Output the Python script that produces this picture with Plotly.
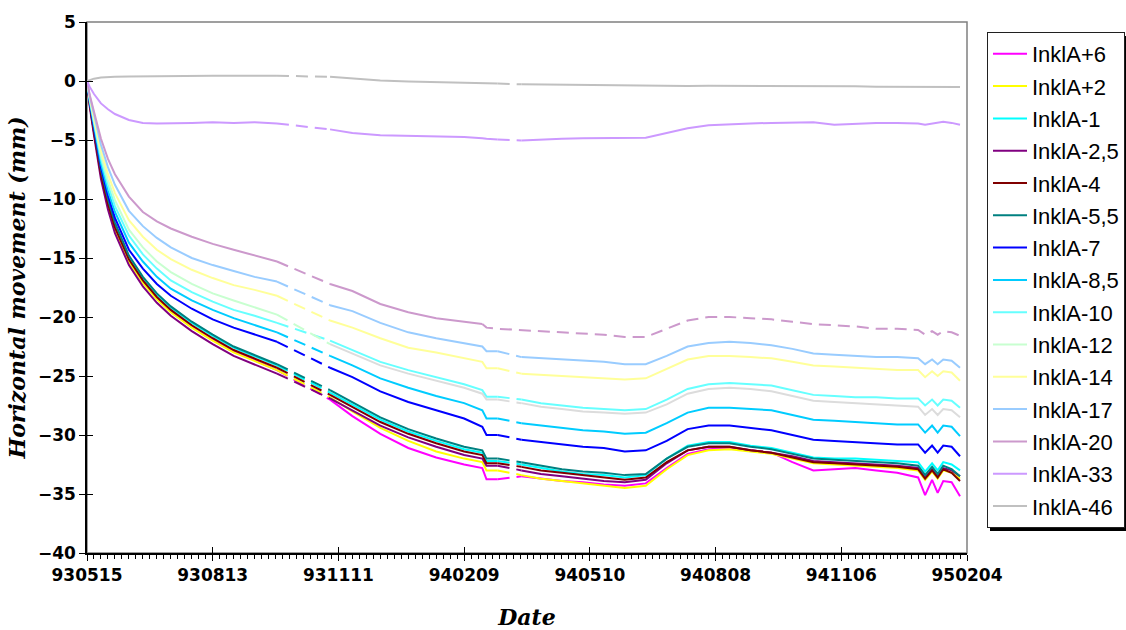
import plotly.graph_objects as go
from datetime import date, timedelta

# ---------------- data ----------------
start = date(1993, 5, 15)
days = [0, 2, 5, 10, 15, 20, 30, 40, 50, 60,
        75, 90, 105, 120, 136, 174, 190, 210, 230, 250,
        270, 283, 286, 294, 311, 325, 340, 355, 370, 385,
        400, 415, 430, 445, 460, 475, 490, 505, 520, 535,
        550, 565, 580, 595, 600, 605, 609, 613, 619, 625]
dates = [(start + timedelta(days=d)).isoformat() for d in days]

names = ["InklA+6", "InklA+2", "InklA-1", "InklA-2,5", "InklA-4", "InklA-5,5",
         "InklA-7", "InklA-8,5", "InklA-10", "InklA-12", "InklA-14", "InklA-17",
         "InklA-20", "InklA-33", "InklA-46"]

inkl_p6 = [0, -2.0, -4.3, -8.0, -10.5, -12.5, -15.2, -17.0, -18.4, -19.5,
           -20.8, -21.9, -22.9, -23.7, -24.5, -27.0, -28.4, -29.9, -31.1, -31.9,
           -32.5, -32.8, -33.75, -33.75, -33.5, -33.7, -33.9, -34.0, -34.2, -34.3,
           -34.1, -32.8, -31.6, -31.2, -31.1, -31.3, -31.5, -32.3, -33.0, -32.9,
           -32.8, -33.0, -33.2, -33.6, -35.1, -33.8, -34.9, -33.9, -34.0, -35.2]
inkl_p2 = [0, -2.0, -4.3, -8.0, -10.6, -12.6, -15.3, -17.1, -18.5, -19.6,
           -20.9, -22.0, -23.0, -23.7, -24.5, -26.8, -28.0, -29.4, -30.5, -31.4,
           -32.0, -32.3, -33.0, -33.0, -33.4, -33.7, -33.9, -34.1, -34.3, -34.5,
           -34.3, -32.9, -31.7, -31.3, -31.2, -31.4, -31.6, -32.0, -32.4, -32.5,
           -32.6, -32.7, -32.8, -33.0, -33.8, -33.1, -33.7, -33.0, -33.2, -33.7]
inkl_m1 = [0, -1.9, -4.1, -7.7, -10.2, -12.2, -14.9, -16.7, -18.1, -19.2,
           -20.5, -21.6, -22.6, -23.3, -24.1, -26.4, -27.4, -28.7, -29.7, -30.5,
           -31.2, -31.5, -32.2, -32.2, -32.5, -32.8, -33.1, -33.3, -33.4, -33.6,
           -33.4, -32.0, -30.9, -30.6, -30.6, -30.9, -31.1, -31.5, -31.9, -32.0,
           -32.0, -32.1, -32.2, -32.3, -33.1, -32.4, -33.0, -32.3, -32.5, -33.0]
inkl_m2_5 = [0, -2.2, -4.6, -8.3, -10.9, -12.9, -15.6, -17.4, -18.8, -19.9,
             -21.2, -22.3, -23.3, -24.0, -24.8, -26.9, -27.9, -29.2, -30.2, -31.0,
             -31.7, -32.0, -32.6, -32.6, -33.0, -33.3, -33.5, -33.7, -33.9, -34.0,
             -33.8, -32.4, -31.3, -31.0, -31.0, -31.3, -31.5, -31.8, -32.2, -32.3,
             -32.4, -32.5, -32.6, -32.8, -33.6, -32.9, -33.5, -32.8, -33.0, -33.5]
inkl_m4 = [0, -2.0, -4.3, -7.9, -10.4, -12.4, -15.1, -16.9, -18.3, -19.4,
           -20.7, -21.8, -22.8, -23.5, -24.3, -26.6, -27.6, -28.9, -29.9, -30.7,
           -31.4, -31.7, -32.4, -32.4, -32.7, -33.0, -33.2, -33.4, -33.6, -33.8,
           -33.6, -32.3, -31.3, -31.0, -31.0, -31.3, -31.5, -31.9, -32.3, -32.4,
           -32.5, -32.6, -32.7, -32.9, -33.7, -33.0, -33.6, -32.9, -33.2, -33.9]
inkl_m5_5 = [0, -1.8, -4.0, -7.5, -10.0, -12.0, -14.8, -16.6, -18.0, -19.1,
             -20.4, -21.5, -22.5, -23.2, -24.0, -26.2, -27.2, -28.5, -29.5, -30.3,
             -31.0, -31.3, -32.0, -32.0, -32.3, -32.6, -32.9, -33.1, -33.2, -33.4,
             -33.3, -32.0, -31.0, -30.7, -30.7, -31.0, -31.2, -31.6, -32.0, -32.1,
             -32.2, -32.3, -32.4, -32.6, -33.4, -32.7, -33.3, -32.6, -32.9, -33.5]
inkl_m7 = [0, -1.8, -3.9, -7.3, -9.7, -11.6, -14.3, -15.9, -17.2, -18.2,
           -19.3, -20.2, -20.9, -21.5, -22.1, -24.3, -25.1, -26.3, -27.2, -27.9,
           -28.6, -29.3, -30.0, -30.0, -30.4, -30.6, -30.8, -31.0, -31.1, -31.4,
           -31.3, -30.5, -29.5, -29.2, -29.2, -29.4, -29.6, -30.0, -30.4, -30.5,
           -30.6, -30.7, -30.8, -30.8, -31.5, -30.9, -31.5, -30.9, -31.0, -31.8]
inkl_m8_5 = [0, -1.7, -3.7, -7.0, -9.3, -11.1, -13.7, -15.3, -16.6, -17.6,
             -18.6, -19.4, -20.1, -20.7, -21.3, -23.3, -24.1, -25.2, -26.0, -26.7,
             -27.3, -27.9, -28.6, -28.6, -29.0, -29.2, -29.4, -29.6, -29.7, -29.9,
             -29.8, -29.0, -28.1, -27.7, -27.7, -27.8, -27.9, -28.3, -28.7, -28.8,
             -28.9, -29.0, -29.1, -29.1, -29.8, -29.2, -29.8, -29.2, -29.3, -30.1]
inkl_m10 = [0, -1.6, -3.5, -6.6, -8.8, -10.6, -13.1, -14.7, -15.9, -16.9,
            -17.9, -18.7, -19.4, -19.9, -20.5, -22.0, -22.8, -23.8, -24.5, -25.1,
            -25.7, -26.2, -26.75, -26.75, -27.0, -27.3, -27.5, -27.7, -27.8, -27.9,
            -27.8, -27.0, -26.1, -25.7, -25.6, -25.7, -25.8, -26.2, -26.6, -26.7,
            -26.8, -26.8, -26.9, -26.9, -27.5, -27.0, -27.5, -27.0, -27.1, -27.7]
inkl_m12 = [0, -1.5, -3.3, -6.3, -8.4, -10.1, -12.6, -14.1, -15.3, -16.2,
            -17.2, -18.0, -18.6, -19.2, -19.8, -22.3, -23.1, -24.1, -24.8, -25.4,
            -26.0, -26.5, -27.0, -27.0, -27.3, -27.6, -27.8, -28.0, -28.1, -28.2,
            -28.1, -27.4, -26.5, -26.1, -26.0, -26.1, -26.3, -26.7, -27.1, -27.2,
            -27.3, -27.4, -27.5, -27.6, -28.3, -27.8, -28.3, -27.8, -27.9, -28.5]
inkl_m14 = [0, -1.4, -3.1, -5.9, -7.9, -9.5, -11.8, -13.2, -14.3, -15.1,
            -16.0, -16.7, -17.3, -17.7, -18.2, -20.3, -20.9, -21.8, -22.6, -23.0,
            -23.5, -23.8, -24.35, -24.35, -24.8, -24.9, -25.0, -25.1, -25.2, -25.3,
            -25.2, -24.4, -23.6, -23.3, -23.3, -23.4, -23.5, -23.8, -24.1, -24.2,
            -24.3, -24.4, -24.5, -24.5, -25.1, -24.6, -25.0, -24.6, -24.7, -25.4]
inkl_m17 = [0, -1.3, -2.8, -5.4, -7.3, -8.8, -11.0, -12.3, -13.3, -14.1,
            -15.0, -15.6, -16.1, -16.6, -17.0, -19.0, -19.5, -20.5, -21.3, -21.8,
            -22.2, -22.5, -22.9, -22.9, -23.4, -23.5, -23.6, -23.7, -23.8, -24.0,
            -24.0, -23.3, -22.5, -22.2, -22.1, -22.2, -22.4, -22.7, -23.1, -23.2,
            -23.3, -23.4, -23.4, -23.5, -24.0, -23.6, -24.0, -23.6, -23.7, -24.3]
inkl_m20 = [0, -1.2, -2.6, -4.9, -6.6, -7.9, -9.8, -11.1, -11.9, -12.5,
            -13.2, -13.8, -14.3, -14.8, -15.3, -17.2, -17.8, -18.9, -19.6, -20.1,
            -20.4, -20.6, -20.9, -21.0, -21.1, -21.2, -21.3, -21.4, -21.5, -21.7,
            -21.7, -21.0, -20.3, -20.0, -20.0, -20.1, -20.2, -20.4, -20.6, -20.7,
            -20.8, -21.0, -21.0, -21.1, -21.5, -21.2, -21.5, -21.2, -21.3, -21.6]
inkl_m33 = [0, -0.5, -1.1, -1.9, -2.4, -2.8, -3.3, -3.55, -3.6, -3.6,
            -3.55, -3.5, -3.55, -3.5, -3.6, -4.1, -4.4, -4.6, -4.65, -4.7,
            -4.75, -4.85, -4.9, -4.95, -5.05, -4.95, -4.9, -4.85, -4.85, -4.85,
            -4.8, -4.4, -4.0, -3.75, -3.65, -3.6, -3.55, -3.5, -3.5, -3.7,
            -3.6, -3.55, -3.55, -3.6, -3.7, -3.6, -3.5, -3.45, -3.55, -3.7]
inkl_m46 = [0, 0.1, 0.2, 0.3, 0.35, 0.35, 0.38, 0.4, 0.4, 0.42,
            0.42, 0.45, 0.45, 0.45, 0.45, 0.35, 0.2, 0.05, -0.05, -0.1,
            -0.15, -0.2, -0.2, -0.22, -0.28, -0.3, -0.3, -0.33, -0.35, -0.35,
            -0.4, -0.42, -0.42, -0.4, -0.4, -0.42, -0.42, -0.42, -0.45, -0.45,
            -0.45, -0.48, -0.48, -0.48, -0.5, -0.5, -0.5, -0.5, -0.5, -0.5]

series = [inkl_p6, inkl_p2, inkl_m1, inkl_m2_5, inkl_m4, inkl_m5_5, inkl_m7,
          inkl_m8_5, inkl_m10, inkl_m12, inkl_m14, inkl_m17, inkl_m20,
          inkl_m33, inkl_m46]

x_tick_start = "1993-05-15"
x_range = ["1993-05-15", "1995-02-04"]
y_range = [-40, 5]

# ---------------- styles ----------------
colors = ["#FF00FF", "#FFFF00", "#00FFFF", "#800080", "#800000", "#008080",
          "#0000FF", "#00CCFF", "#66FFFF", "#C8FFD0", "#FFFF99", "#99CCFF",
          "#CC99CC", "#CC99FF", "#C0C0C0"]
# index ranges drawn solid / dashed (sparse measurement periods)
default_segments = [(0, 14, "solid"), (14, 15, "dash"), (15, 23, "solid"),
                    (23, 24, "dash"), (24, 49, "solid")]
special_segments = {
    "InklA-20": [(0, 14, "solid"), (14, 15, "dash"), (15, 21, "solid"),
                 (21, 49, "dash")],
}
late_colors = {"InklA-12": (15, "#DCDCDC")}

DAY_MS = 86400000
fig = go.Figure()
for name, col, vals in zip(names, colors, series):
    assert len(vals) == len(days), name
    segs = special_segments.get(name, default_segments)
    first = True
    for a, b, style in segs:
        c = col
        if name in late_colors and a >= late_colors[name][0]:
            c = late_colors[name][1]
        fig.add_trace(go.Scatter(
            x=dates[a:b + 1], y=vals[a:b + 1], mode="lines", name=name,
            legendgroup=name, showlegend=first,
            line=dict(color=c, width=2,
                      dash="solid" if style == "solid" else "12px,7px"),
            hoverinfo="skip"))
        first = False

# empty trace on overlay axes (for crossing tick marks)
fig.add_trace(go.Scatter(x=[], y=[], xaxis="x2", yaxis="y2", showlegend=False))

tickfont = dict(family="DejaVu Sans", size=17, color="black", weight="bold")
titlefont = dict(family="DejaVu Serif", size=22, color="black",
                 weight="bold", style="italic")

L, R, T, B = 87, 967, 22, 553
W, H = 1126, 630
pw, ph = R - L, B - T


def px_x(p):
    return (p - L) / pw


def px_y(p):
    return (B - p) / ph


fig.update_layout(
    width=W, height=H,
    margin=dict(l=L, r=W - R, t=T, b=H - B, autoexpand=False),
    paper_bgcolor="white", plot_bgcolor="white",
    showlegend=True,
    legend=dict(x=px_x(987), y=px_y(32), xanchor="left", yanchor="top",
                bgcolor="white", bordercolor="#202020", borderwidth=1,
                font=dict(family="Liberation Sans", size=22, color="black"),
                itemwidth=34, tracegroupgap=0.7, traceorder="grouped"),
    xaxis=dict(type="date", range=x_range, tick0=x_tick_start,
               dtick=90 * DAY_MS, tickformat="%y%m%d",
               showgrid=False, zeroline=False,
               showline=True, linecolor="black", linewidth=1.5,
               ticks="outside", ticklen=6, tickwidth=1.2, tickcolor="black",
               minor=dict(dtick=5 * DAY_MS, tick0=x_tick_start, ticks="outside",
                          ticklen=4, tickwidth=1, tickcolor="black",
                          showgrid=False),
               tickfont=tickfont,
               title=dict(text="Date", font=titlefont, standoff=26)),
    yaxis=dict(range=y_range, dtick=5, tick0=0,
               showgrid=False, zeroline=False,
               showline=True, linecolor="black", linewidth=1.5,
               ticks="outside", ticklen=6, tickwidth=1.2, tickcolor="black",
               tickfont=tickfont,
               title=dict(text="Horizontal movement (mm)", font=titlefont,
                          standoff=6)),
    xaxis2=dict(type="date", range=x_range, tick0=x_tick_start,
                dtick=90 * DAY_MS, overlaying="x", anchor="y2",
                showgrid=False, zeroline=False, showline=False,
                ticks="inside", ticklen=6, tickwidth=1.2, tickcolor="black",
                showticklabels=False),
    yaxis2=dict(range=y_range, dtick=5, tick0=0, overlaying="y", anchor="x2",
                showgrid=False, zeroline=False, showline=False,
                ticks="inside", ticklen=6, tickwidth=1.2, tickcolor="black",
                showticklabels=False),
    shapes=[
        # plot-area frame (grey top / right edges)
        dict(type="rect", xref="paper", yref="paper", x0=0, y0=0, x1=1, y1=1,
             line=dict(color="#808080", width=1.5), layer="below"),
        # legend drop shadow
        dict(type="rect", xref="paper", yref="paper",
             x0=px_x(990), x1=px_x(1135), y0=px_y(531), y1=px_y(36),
             fillcolor="black", line=dict(width=0), layer="above"),
    ],
)

fig.write_html("out.html")
